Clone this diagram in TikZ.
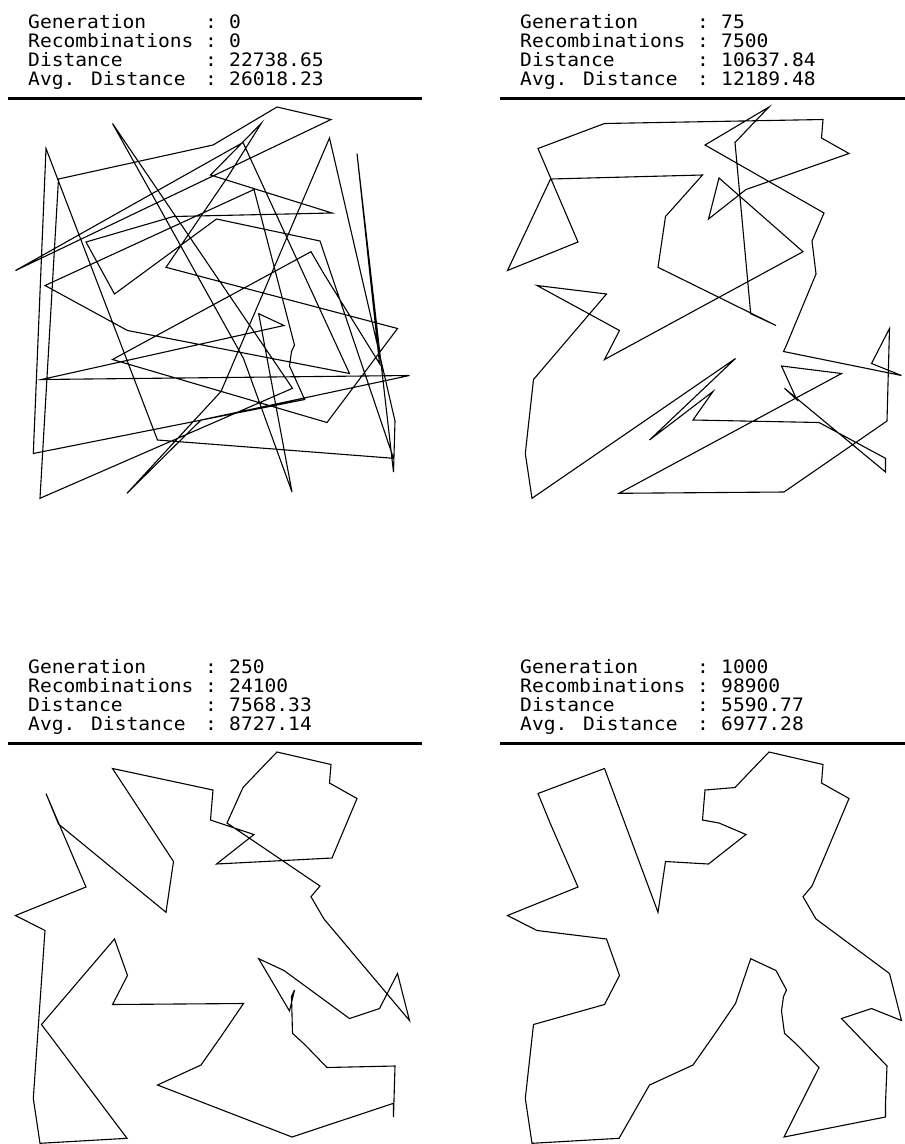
\documentclass[tikz,border=0pt]{standalone}
\usepackage{fontspec}
\newfontfamily\termfont[FakeStretch=1.06]{DejaVu Sans Mono}
\tikzset{
  tourline/.style={line width=1.1pt, line join=miter, black},
  rulebar/.style={line width=3pt, black},
  hdrlabel/.style={font=\termfont\fontsize{18.5}{20}\selectfont, anchor=base west, inner sep=0pt}
}
% city positions, in pixels of one panel
\newcommand{\placecities}{%
  \foreach \n/\x/\y in {1/277/107, 2/331/119.5, 3/329.5/138, 4/357/153.5, 5/320/241,
      6/311/251.7, 7/324/274, 8/397.5/328.5, 9/409.5/375.5, 10/379.5/363.5,
      11/349.5/373.5, 12/395/421, 13/393.5/472, 14/292/492, 15/327/422.5,
      16/292.5/388.3, 17/291.5/351.5, 18/294.5/345, 19/284/325.5, 20/258.7/313.7,
      21/243.5/358.5, 22/201/420, 23/157.5/440, 24/127/493.3, 25/40/498.3,
      26/33.3/453.5, 27/41.5/379.5, 28/112.5/359.5, 29/127.5/330.5, 30/114.5/294,
      31/45/285.5, 32/15.5/270.5, 33/86/242, 34/46/148.5, 35/112.5/123.5,
      36/166/267.3, 37/173.5/216.5, 38/216.5/219, 39/254/189.5, 40/210.5/175,
      41/213/145, 42/243/142.5, 43/58.5/179, 44/289.5/366, 45/393.5/458.3,
      46/332/213, 47/227/178, 48/221/391.5, 49/304.7/399.5, 50/261.3/123.3}
    \coordinate (c\n) at (\x,\y);%
}
% header with the run statistics and the rule below it
\newcommand{\statsblock}[5]{%
  \draw[rulebar] (8,98) -- (422,98);
  \foreach \row/\lab/\val in {0/Generation/#2, 1/Recombinations/#3, 2/Distance/#4, 3/Avg. Distance/#5} {
    \node[hdrlabel] (#1lab\row) at (28,28+19*\row) {\lab};
    \node[hdrlabel] (#1col\row) at (205,28+19*\row) {:};
    \node[hdrlabel] (#1val\row) at (229,28+19*\row) {\val};
  }%
}
\begin{document}
\begin{tikzpicture}[x=1pt,y=-1pt]
  \useasboundingbox[fill=white] (0,0) rectangle (905,1144);

  % generation 0
  \begin{scope}
    \statsblock{ga}{0}{0}{22738.65}{26018.23}
    \placecities
    \draw[tourline] (c39) foreach \n in {31,29,11,42,32,2,1,41,43,25,16,35,21,14,20,19,27,9,22,24,48,3,12,13,4,10,7,6,28,15,8,36,47,50,40,46,37,33,30,38,5,45,23,34,26,49,44,17,18} {-- (c\n)} -- cycle;
  \end{scope}

  % generation 75
  \begin{scope}[shift={(492,0)}]
    \statsblock{gb}{75}{7500}{10637.84}{12189.48}
    \placecities
    \draw[tourline] (c33) foreach \n in {34,35,2,3,4,39,38,47,6,28,29,31,30,27,26,25,21,23,48,22,15,45,13,16,49,44,11,24,14,12,8,10,9,17,18,7,5,46,41,1,50,42,20,19,36,37,40,43,32} {-- (c\n)} -- cycle;
  \end{scope}

  % generation 250
  \begin{scope}[shift={(0,645)}]
    \statsblock{gc}{250}{24100}{7568.33}{8727.14}
    \placecities
    \draw[tourline] (c39) foreach \n in {38,46,4,3,2,1,50,42,47,5,6,7,9,8,10,11,19,20,44,18,17,16,49,15,12,13,45,14,23,22,48,21,28,29,30,27,24,25,26,31,32,33,34,43,36,37,35,41,40} {-- (c\n)} -- cycle;
  \end{scope}

  % generation 1000
  \begin{scope}[shift={(492,645)}]
    \statsblock{gd}{1000}{98900}{5590.77}{6977.28}
    \placecities
    \draw[tourline] (c1) foreach \n in {2,3,4,46,5,6,7,8,9,10,11,12,45,13,14,15,49,16,44,17,18,19,20,21,48,22,23,24,25,26,27,28,29,30,31,32,33,43,34,35,36,37,38,39,47,40,41,42,50} {-- (c\n)} -- cycle;
  \end{scope}
\end{tikzpicture}
\end{document}
